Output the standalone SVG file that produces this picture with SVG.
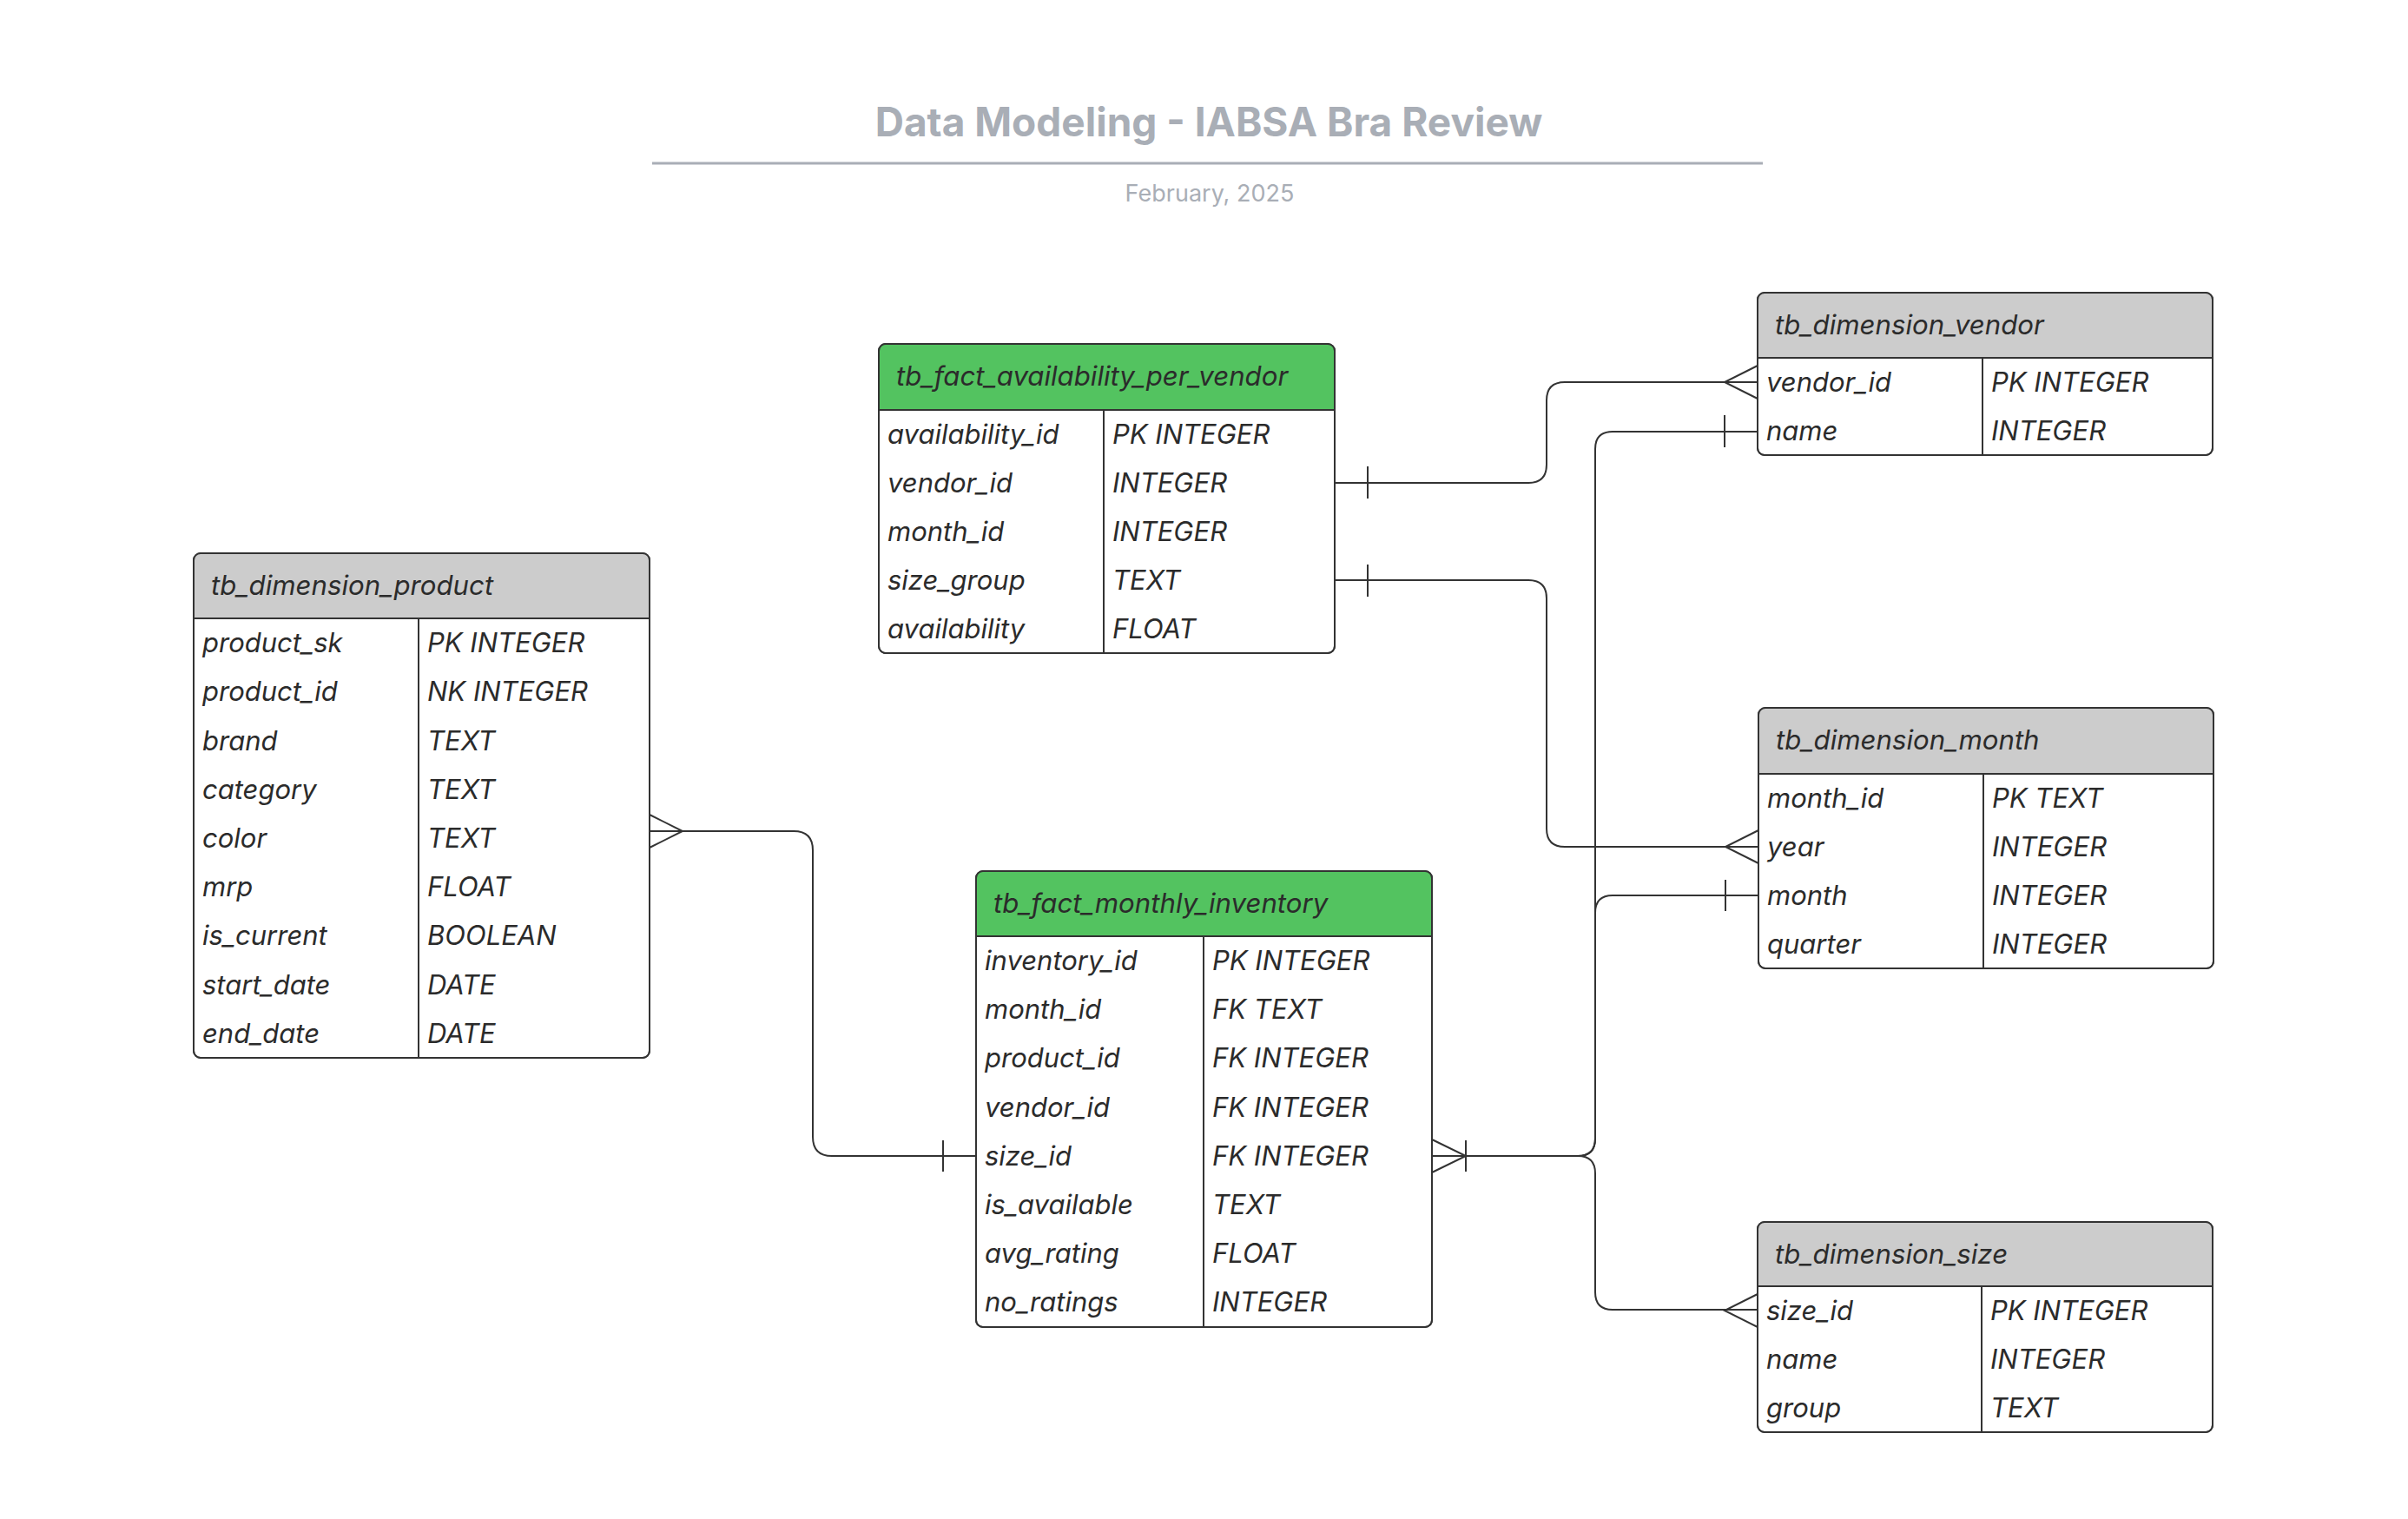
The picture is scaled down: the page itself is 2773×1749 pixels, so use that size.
<svg xmlns="http://www.w3.org/2000/svg" width="2773" height="1749" viewBox="0 0 2773 1749">
  <style>
    .title { font-family: Inter, "Liberation Sans", sans-serif; font-size: 46px; font-weight: 700; fill: #a9aeb6; }
    .sub { font-family: Inter, "Liberation Sans", sans-serif; font-size: 27px; fill: #a9aeb6; }
    .hdr { font-family: Inter, "Liberation Sans", sans-serif; font-size: 31.2px; font-style: italic; fill: #2b2b2b; }
    .cell { font-family: Inter, "Liberation Sans", sans-serif; font-size: 31px; font-style: italic; fill: #2b2b2b; }
    .box { fill: #ffffff; stroke: #333333; stroke-width: 2; }
    .border { fill: none; stroke: #333333; stroke-width: 2; }
    .hfact { fill: #53c360; }
    .hdim { fill: #cccccc; }
    .sep { stroke: #333333; stroke-width: 2; }
    .conn path, .conn polyline, .conn line { fill: none; stroke: #333333; stroke-width: 2; }
  </style>

  <g id="title">
    <text class="title" x="1392" y="157" text-anchor="middle">Data Modeling - IABSA Bra Review</text>
    <line x1="751" y1="188" x2="2030" y2="188" stroke="#a9aeb6" stroke-width="3"/>
    <text class="sub" x="1393" y="232" text-anchor="middle">February, 2025</text>
  </g>

  <!-- tb_fact_availability_per_vendor -->
  <g id="tb_fact_availability_per_vendor">
    <rect class="box" x="1012" y="396" width="525" height="356" rx="8"/>
    <path class="hfact" d="M1012,472 V404 Q1012,396 1020,396 H1529 Q1537,396 1537,404 V472 Z"/>
    <line class="sep" x1="1012" y1="472" x2="1537" y2="472"/>
    <line class="sep" x1="1271" y1="472" x2="1271" y2="752"/>
    <rect class="border" x="1012" y="396" width="525" height="356" rx="8"/>
    <text class="hdr" x="1032" y="444">tb_fact_availability_per_vendor</text>
    <text class="cell" x="1022" y="511">availability_id</text><text class="cell" x="1281" y="511">PK INTEGER</text>
    <text class="cell" x="1022" y="567">vendor_id</text><text class="cell" x="1281" y="567">INTEGER</text>
    <text class="cell" x="1022" y="623">month_id</text><text class="cell" x="1281" y="623">INTEGER</text>
    <text class="cell" x="1022" y="679">size_group</text><text class="cell" x="1281" y="679">TEXT</text>
    <text class="cell" x="1022" y="735">availability</text><text class="cell" x="1281" y="735">FLOAT</text>
  </g>

  <!-- tb_dimension_product -->
  <g id="tb_dimension_product">
    <rect class="box" x="223" y="637" width="525" height="581" rx="8"/>
    <path class="hdim" d="M223,712 V645 Q223,637 231,637 H740 Q748,637 748,645 V712 Z"/>
    <line class="sep" x1="223" y1="712" x2="748" y2="712"/>
    <line class="sep" x1="482" y1="712" x2="482" y2="1218"/>
    <rect class="border" x="223" y="637" width="525" height="581" rx="8"/>
    <text class="hdr" x="243" y="685">tb_dimension_product</text>
    <text class="cell" x="233" y="751">product_sk</text><text class="cell" x="492" y="751">PK INTEGER</text>
    <text class="cell" x="233" y="807">product_id</text><text class="cell" x="492" y="807">NK INTEGER</text>
    <text class="cell" x="233" y="864">brand</text><text class="cell" x="492" y="864">TEXT</text>
    <text class="cell" x="233" y="920">category</text><text class="cell" x="492" y="920">TEXT</text>
    <text class="cell" x="233" y="976">color</text><text class="cell" x="492" y="976">TEXT</text>
    <text class="cell" x="233" y="1032">mrp</text><text class="cell" x="492" y="1032">FLOAT</text>
    <text class="cell" x="233" y="1088">is_current</text><text class="cell" x="492" y="1088">BOOLEAN</text>
    <text class="cell" x="233" y="1145">start_date</text><text class="cell" x="492" y="1145">DATE</text>
    <text class="cell" x="233" y="1201">end_date</text><text class="cell" x="492" y="1201">DATE</text>
  </g>

  <!-- tb_fact_monthly_inventory -->
  <g id="tb_fact_monthly_inventory">
    <rect class="box" x="1124" y="1003" width="525" height="525" rx="8"/>
    <path class="hfact" d="M1124,1078 V1011 Q1124,1003 1132,1003 H1641 Q1649,1003 1649,1011 V1078 Z"/>
    <line class="sep" x1="1124" y1="1078" x2="1649" y2="1078"/>
    <line class="sep" x1="1386" y1="1078" x2="1386" y2="1528"/>
    <rect class="border" x="1124" y="1003" width="525" height="525" rx="8"/>
    <text class="hdr" x="1144" y="1051">tb_fact_monthly_inventory</text>
    <text class="cell" x="1134" y="1117">inventory_id</text><text class="cell" x="1396" y="1117">PK INTEGER</text>
    <text class="cell" x="1134" y="1173">month_id</text><text class="cell" x="1396" y="1173">FK TEXT</text>
    <text class="cell" x="1134" y="1229">product_id</text><text class="cell" x="1396" y="1229">FK INTEGER</text>
    <text class="cell" x="1134" y="1286">vendor_id</text><text class="cell" x="1396" y="1286">FK INTEGER</text>
    <text class="cell" x="1134" y="1342">size_id</text><text class="cell" x="1396" y="1342">FK INTEGER</text>
    <text class="cell" x="1134" y="1398">is_available</text><text class="cell" x="1396" y="1398">TEXT</text>
    <text class="cell" x="1134" y="1454">avg_rating</text><text class="cell" x="1396" y="1454">FLOAT</text>
    <text class="cell" x="1134" y="1510">no_ratings</text><text class="cell" x="1396" y="1510">INTEGER</text>
  </g>

  <!-- tb_dimension_vendor -->
  <g id="tb_dimension_vendor">
    <rect class="box" x="2024" y="337" width="524" height="187" rx="8"/>
    <path class="hdim" d="M2024,412 V345 Q2024,337 2032,337 H2540 Q2548,337 2548,345 V412 Z"/>
    <line class="sep" x1="2024" y1="412" x2="2548" y2="412"/>
    <line class="sep" x1="2283" y1="412" x2="2283" y2="524"/>
    <rect class="border" x="2024" y="337" width="524" height="187" rx="8"/>
    <text class="hdr" x="2044" y="385">tb_dimension_vendor</text>
    <text class="cell" x="2034" y="451">vendor_id</text><text class="cell" x="2293" y="451">PK INTEGER</text>
    <text class="cell" x="2034" y="507">name</text><text class="cell" x="2293" y="507">INTEGER</text>
  </g>

  <!-- tb_dimension_month -->
  <g id="tb_dimension_month">
    <rect class="box" x="2025" y="815" width="524" height="300" rx="8"/>
    <path class="hdim" d="M2025,891 V823 Q2025,815 2033,815 H2541 Q2549,815 2549,823 V891 Z"/>
    <line class="sep" x1="2025" y1="891" x2="2549" y2="891"/>
    <line class="sep" x1="2284" y1="891" x2="2284" y2="1115"/>
    <rect class="border" x="2025" y="815" width="524" height="300" rx="8"/>
    <text class="hdr" x="2045" y="863">tb_dimension_month</text>
    <text class="cell" x="2035" y="930">month_id</text><text class="cell" x="2294" y="930">PK TEXT</text>
    <text class="cell" x="2035" y="986">year</text><text class="cell" x="2294" y="986">INTEGER</text>
    <text class="cell" x="2035" y="1042">month</text><text class="cell" x="2294" y="1042">INTEGER</text>
    <text class="cell" x="2035" y="1098">quarter</text><text class="cell" x="2294" y="1098">INTEGER</text>
  </g>

  <!-- tb_dimension_size -->
  <g id="tb_dimension_size">
    <rect class="box" x="2024" y="1407" width="524" height="242" rx="8"/>
    <path class="hdim" d="M2024,1481 V1415 Q2024,1407 2032,1407 H2540 Q2548,1407 2548,1415 V1481 Z"/>
    <line class="sep" x1="2024" y1="1481" x2="2548" y2="1481"/>
    <line class="sep" x1="2282" y1="1481" x2="2282" y2="1649"/>
    <rect class="border" x="2024" y="1407" width="524" height="242" rx="8"/>
    <text class="hdr" x="2044" y="1455">tb_dimension_size</text>
    <text class="cell" x="2034" y="1520">size_id</text><text class="cell" x="2292" y="1520">PK INTEGER</text>
    <text class="cell" x="2034" y="1576">name</text><text class="cell" x="2292" y="1576">INTEGER</text>
    <text class="cell" x="2034" y="1632">group</text><text class="cell" x="2292" y="1632">TEXT</text>
  </g>

  <g id="connectors" class="conn">
    <!-- product (many) to inventory size_id (one) -->
    <path d="M748,957 H914 Q936,957 936,979 V1309 Q936,1331 958,1331 H1124"/>
    <polyline points="748,938 786,957 748,976"/>
    <line x1="1086" y1="1313" x2="1086" y2="1349"/>

    <!-- availability vendor_id (one) to vendor vendor_id (many) -->
    <path d="M1537,556 H1760 Q1781,556 1781,535 V461 Q1781,440 1802,440 H2024"/>
    <line x1="1575" y1="537" x2="1575" y2="574"/>
    <polyline points="2024,421 1986,440 2024,459"/>

    <!-- availability size_group (one) to month year (many) -->
    <path d="M1537,668 H1760 Q1781,668 1781,689 V954 Q1781,975 1802,975 H2025"/>
    <line x1="1575" y1="650" x2="1575" y2="687"/>
    <polyline points="2025,956 1987,975 2025,994"/>

    <!-- inventory size_id (one or many) to vendor name / month month / size size_id -->
    <path d="M1649,1331 H1817 Q1837,1331 1837,1311 V517 Q1837,497 1857,497 H2024"/>
    <path d="M1817,1331 Q1837,1331 1837,1311 V1051 Q1837,1031 1857,1031 H2025"/>
    <path d="M1817,1331 Q1837,1331 1837,1351 V1488 Q1837,1508 1857,1508 H2024"/>
    <polyline points="1649,1312 1688,1331 1649,1350"/>
    <line x1="1688" y1="1313" x2="1688" y2="1349"/>
    <line x1="1986" y1="478" x2="1986" y2="515"/>
    <line x1="1987" y1="1013" x2="1987" y2="1049"/>
    <polyline points="2024,1490 1986,1509 2024,1528"/>
  </g>
</svg>
